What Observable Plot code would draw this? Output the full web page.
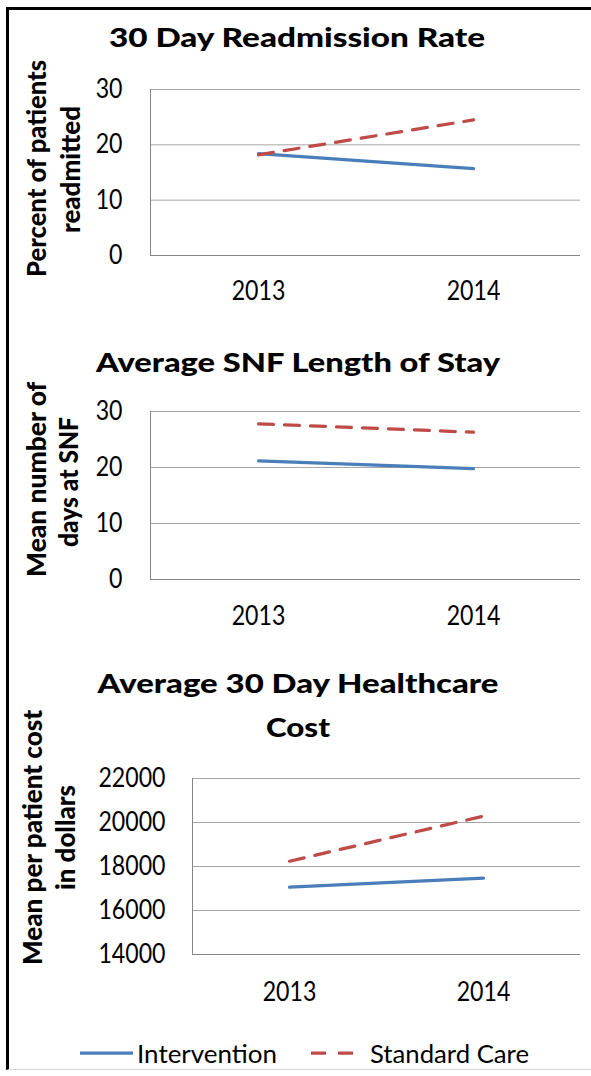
<!DOCTYPE html>
<html><head><meta charset="utf-8">
<script src="https://cdn.jsdelivr.net/npm/d3@7"></script>
<script src="https://cdn.jsdelivr.net/npm/@observablehq/plot@0.6"></script>
<style>
html,body{margin:0;padding:0;background:#fff;}
#page{position:relative;width:591px;height:1076px;overflow:hidden;background:#fff;}
#frame{position:absolute;left:6px;top:7px;width:620px;height:1063px;border-left:3px solid #000;border-top:3px solid #000;border-bottom:1px solid #d9d9d9;box-sizing:border-box;}
.chart{position:absolute;left:0;}
#overlay{position:absolute;left:0;top:0;pointer-events:none;}
</style>
</head><body>
<div id="page"><div id="frame"></div></div>
<script>
// ---- data ----
const years = ["2013", "2014"];
const seriesNames = ["Intervention", "Standard Care"];
const readmitIntervention = [18.4, 15.7];
const readmitStandard = [18.2, 24.5];
const snfIntervention = [21.2, 19.8];
const snfStandard = [27.8, 26.3];
const costIntervention = [17060, 17470];
const costStandard = [18240, 20290];
const pctTicks = [0, 10, 20, 30];
const costTicks = [14000, 16000, 18000, 20000, 22000];
const chartTitles = [["30 Day Readmission Rate"], ["Average SNF Length of Stay"], ["Average 30 Day Healthcare", "Cost"]];
const yLabels = [["Percent of patients", "readmitted"], ["Mean number of", "days at SNF"], ["Mean per patient cost", "in dollars"]];

const W = 591;
const FONT = "Lato, 'Open Sans', sans-serif";
const BLUE = "#4a7ebb", RED = "#be4b48";
const TICK_FS = 26, TICK_SX = 0.89;
const page = document.getElementById("page");

// condense tick labels horizontally (the reference type is narrow); y offsets are untouched
function condense(svg, sx) {
  svg.querySelectorAll("g[aria-label$='tick label'] text").forEach(t => {
    const tr = t.getAttribute("transform") || "";
    t.setAttribute("transform", `${tr} scale(${sx},1)`);
  });
}

function chart(cfg) {
  const rowsI = years.map((y, i) => ({year: y, value: cfg.intervention[i]}));
  const rowsS = years.map((y, i) => ({year: y, value: cfg.standard[i]}));
  const t = cfg.ticks;
  const svg = Plot.plot({
    width: W, height: cfg.height,
    marginTop: cfg.mt, marginBottom: cfg.mb, marginLeft: cfg.ml, marginRight: 11,
    style: {fontFamily: FONT, fontSize: TICK_FS + "px", color: "#000", background: "transparent", overflow: "visible"},
    x: {type: "point", domain: years, padding: 0.5},
    y: {domain: [t[0], t[t.length - 1]]},
    marks: [
      Plot.gridY(t, {stroke: "#a6a6a6", strokeOpacity: 1, strokeWidth: 1}),
      Plot.frame({anchor: "left", stroke: "#868686", strokeWidth: 1}),
      Plot.ruleY([t[0]], {stroke: "#868686", strokeWidth: 1}),
      Plot.axisY(t, {tickSize: 0, tickPadding: cfg.yPad, label: null, tickFormat: d => String(d), fontSize: TICK_FS, fill: "#000"}),
      Plot.axisX({tickSize: 0, tickPadding: cfg.xPad, label: null, fontSize: TICK_FS, fill: "#000"}),
      Plot.line(rowsI, {x: "year", y: "value", stroke: BLUE, strokeWidth: 3.25}),
      Plot.line(rowsS, {x: "year", y: "value", stroke: RED, strokeWidth: 3.25, strokeDasharray: "15,11"})
    ]
  });
  condense(svg, TICK_SX);
  svg.classList.add("chart");
  svg.style.top = cfg.top + "px";
  page.appendChild(svg);
}

chart({top: 60, height: 260, mt: 29, mb: 65, ml: 150, yPad: 28, xPad: 26, ticks: pctTicks, intervention: readmitIntervention, standard: readmitStandard});
chart({top: 380, height: 260, mt: 31, mb: 61, ml: 150, yPad: 28, xPad: 27, ticks: pctTicks, intervention: snfIntervention, standard: snfStandard});
chart({top: 748, height: 260, mt: 30, mb: 54, ml: 192, yPad: 27, xPad: 28, ticks: costTicks, intervention: costIntervention, standard: costStandard});

// ---- overlay text: titles, axis titles, legend ----
const ov = d3.select(page).append("svg").attr("id", "overlay").attr("width", W).attr("height", 1076)
  .style("font-family", FONT);

const CAP = 0.7165; // cap height ratio of the font
// size text by cap height, then scale horizontally to reach the target length
function placeText(parent, text, opts) {
  const fs = opts.cap / CAP;
  const el = parent.append("text").attr("x", 0).attr("y", 0).attr("font-size", fs)
    .attr("text-anchor", opts.anchor || "middle").attr("fill", "#000")
    .attr("font-weight", opts.weight || null).text(text);
  const len = el.node().getComputedTextLength();
  const s = opts.w / len;
  el.attr("transform", `translate(${opts.x},${opts.y})${opts.rotate ? " rotate(-90)" : ""} scale(${s},1)`);
  return el;
}

const titleSpecs = [
  {text: chartTitles[0][0], x: 297, y: 46.7, w: 376, cap: 19},
  {text: chartTitles[1][0], x: 298, y: 371.7, w: 404, cap: 19.5},
  {text: chartTitles[2][0], x: 298, y: 693.3, w: 401, cap: 19.5},
  {text: chartTitles[2][1], x: 298, y: 737.3, w: 64, cap: 19.5}
];
titleSpecs.forEach(s => placeText(ov, s.text, {x: s.x, y: s.y, w: s.w, cap: s.cap, weight: 900}));

const ySpecs = [
  {lines: yLabels[0], bx: [46, 80], cy: [168.5, 169.5], w: [217, 127]},
  {lines: yLabels[1], bx: [46, 78], cy: [479.5, 482], w: [195, 130]},
  {lines: yLabels[2], bx: [42, 75], cy: [837.5, 837.5], w: [255, 105]}
];
ySpecs.forEach(s => {
  s.lines.forEach((ln, i) => placeText(ov, ln, {x: s.bx[i], y: s.cy[i], w: s.w[i], cap: 18.5, weight: 900, rotate: true}));
});

// legend
const lg = ov.append("g");
lg.append("line").attr("x1", 80).attr("x2", 133).attr("y1", 1053).attr("y2", 1053)
  .attr("stroke", BLUE).attr("stroke-width", 3.25);
lg.append("line").attr("x1", 311).attr("x2", 354).attr("y1", 1053).attr("y2", 1053)
  .attr("stroke", RED).attr("stroke-width", 3.25).attr("stroke-dasharray", "15,12");
placeText(lg, seriesNames[0], {x: 137, y: 1062.7, w: 140, cap: 17.5, anchor: "start"});
placeText(lg, seriesNames[1], {x: 370, y: 1062.7, w: 159, cap: 17.5, anchor: "start"});
</script>
</body></html>
